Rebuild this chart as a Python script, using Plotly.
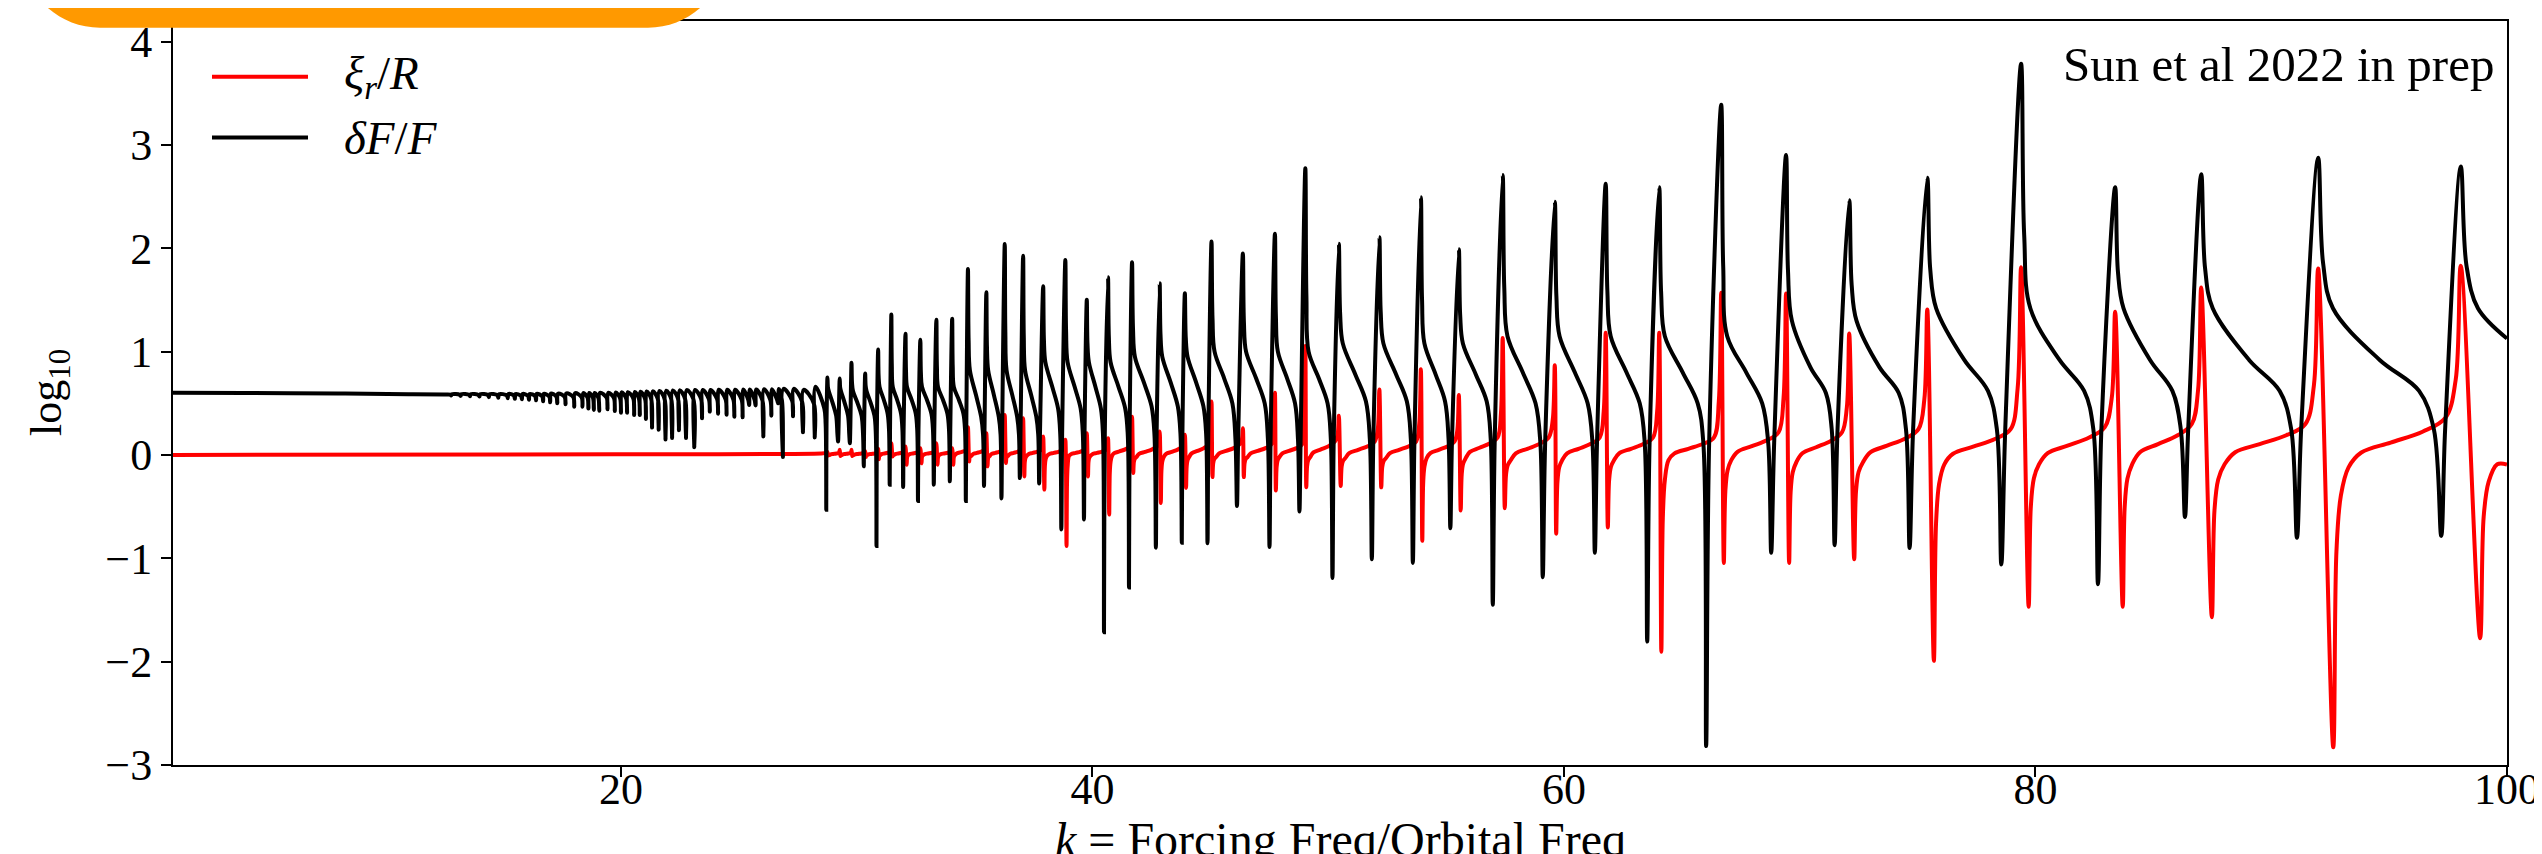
import plotly.graph_objects as go

# ---------------- data ----------------
# slowly varying black curve (delta F / F) before the resonances start
flat_k = [1.0, 4.0, 8.0, 11.0, 12.5]
flat_v = [0.602, 0.600, 0.595, 0.589, 0.586]

# dense comb of small resonances (black): position, tooth bottom, little peak, level before tooth
comb_k = [12.8, 13.2, 13.6, 14.0, 14.4, 14.8, 15.2, 15.5, 15.8, 16.1, 16.4, 16.7, 17.0, 17.3, 17.65,
          18.02, 18.37, 18.62, 18.85, 19.08, 19.43, 19.74, 20.00, 20.26, 20.56, 20.80, 21.06, 21.32,
          21.60, 21.89, 22.17, 22.46, 22.76, 23.11, 23.44, 23.77, 24.12, 24.48, 24.81, 25.16, 25.44,
          25.71, 26.04, 26.38, 26.67, 26.87, 27.30, 27.72, 28.22]
comb_low = [0.575, 0.572, 0.568, 0.565, 0.56, 0.555, 0.55, 0.545, 0.54, 0.535, 0.53, 0.52, 0.51, 0.50, 0.49,
            0.468, 0.468, 0.45, 0.436, 0.429, 0.442, 0.426, 0.41, 0.41, 0.387, 0.387, 0.349, 0.265,
            0.245, 0.15, 0.165, 0.24, 0.165, 0.076, 0.355, 0.42, 0.40, 0.39, 0.37, 0.365, 0.484,
            0.48, 0.18, 0.38, 0.50, -0.02, 0.375, 0.22, 0.17]
comb_high = [0.588, 0.588, 0.588, 0.588, 0.588, 0.588, 0.59, 0.59, 0.59, 0.59, 0.592, 0.592, 0.594, 0.594, 0.596,
             0.598, 0.60, 0.60, 0.60, 0.602, 0.602, 0.604, 0.606, 0.608, 0.61, 0.612, 0.614, 0.616,
             0.62, 0.622, 0.624, 0.626, 0.628, 0.63, 0.63, 0.63, 0.632, 0.632, 0.632, 0.634, 0.634,
             0.634, 0.636, 0.636, 0.638, 0.64, 0.64, 0.63, 0.66]
comb_base = [0.584, 0.583, 0.582, 0.580, 0.579, 0.578, 0.576, 0.575, 0.573, 0.572, 0.570, 0.568, 0.566, 0.565, 0.563,
             0.56, 0.56, 0.558, 0.556, 0.555, 0.555, 0.553, 0.552, 0.55, 0.55, 0.548, 0.546, 0.545,
             0.545, 0.544, 0.544, 0.544, 0.543, 0.543, 0.543, 0.54, 0.54, 0.538, 0.536, 0.535, 0.534,
             0.532, 0.53, 0.53, 0.53, 0.528, 0.526, 0.52, 0.50]
first_late_v = 0.45
first_pre_v = 0.30

# main resonances
res_trough_k = [28.71, 29.21, 29.71, 30.30, 30.84, 31.40, 31.97, 32.60, 33.27, 33.95, 34.63, 35.40, 36.14,
                36.92, 37.74, 38.68, 39.64, 40.49, 41.55, 42.69, 43.79, 44.88, 46.13, 47.51, 48.78, 50.18,
                51.85, 53.59, 55.18, 56.98, 59.10, 61.31, 63.53, 66.03, 68.79, 71.48, 74.66, 78.55, 82.65,
                86.34, 91.09, 97.21]
res_trough_v = [-0.53, 0.13, 0.114, -0.11, -0.88, -0.287, -0.31, -0.445, -0.287, -0.255, -0.445, -0.30, -0.42,
                -0.223, -0.275, -0.72, -0.624, -1.716, -1.283, -0.897, -0.849, -0.855, -0.494, -0.890, -0.546,
                -1.191, -1.010, -1.045, -0.709, -1.449, -1.182, -0.946, -1.806, -2.817, -0.946, -0.873, -0.901,
                -1.060, -1.251, -0.601, -0.801, -0.783]
res_peak_k = [28.76, 29.28, 29.78, 30.36, 30.91, 31.47, 32.07, 32.70, 33.38, 34.05, 34.72, 35.50, 36.28,
              37.06, 37.91, 38.85, 39.76, 40.66, 41.68, 42.85, 43.92, 45.05, 46.38, 47.74, 49.03, 50.45,
              52.17, 53.93, 55.54, 57.40, 59.61, 61.77, 64.04, 66.67, 69.42, 72.10, 75.41, 79.39, 83.38,
              87.03, 91.99, 98.04]
res_peak_v = [0.75, 0.741, 0.892, 0.789, 1.02, 1.36, 1.174, 1.116, 1.309, 1.319, 1.80, 1.576, 2.041,
              1.929, 1.633, 1.887, 1.502, 1.72, 1.865, 1.662, 1.566, 2.065, 1.949, 2.142, 2.775, 2.044,
              2.108, 2.495, 1.992, 2.710, 2.452, 2.624, 2.590, 3.390, 2.904, 2.465, 2.682, 3.786, 2.591,
              2.718, 2.877, 2.791]
# black levels after each peak: knee, middle of the gap, late, just before the next trough
res_knee_v = [0.62, 0.62, 0.62, 0.62, 0.66, 0.66, 0.66, 0.66, 0.66, 0.66, 0.82, 0.82, 0.82, 0.82, 0.90,
              0.90, 0.90, 0.90, 0.95, 0.95, 0.95, 1.00, 1.00, 1.00, 1.00, 1.08, 1.08, 1.08, 1.08, 1.15,
              1.15, 1.15, 1.15, 1.15, 1.30, 1.30, 1.42, 1.42, 1.42, 1.42, 1.42, 1.42]
res_mid_v = [0.50, 0.50, 0.50, 0.50, 0.53, 0.53, 0.53, 0.53, 0.53, 0.53, 0.58, 0.58, 0.58, 0.58, 0.66,
             0.66, 0.66, 0.66, 0.70, 0.70, 0.70, 0.74, 0.74, 0.74, 0.74, 0.78, 0.78, 0.78, 0.78, 0.80,
             0.80, 0.80, 0.80, 0.80, 0.85, 0.85, 0.92, 0.92, 0.92, 0.92, 0.92, 0.92]
res_late_v = [0.38, 0.38, 0.38, 0.38, 0.40, 0.40, 0.40, 0.40, 0.40, 0.40, 0.37, 0.37, 0.37, 0.37, 0.45,
              0.45, 0.45, 0.45, 0.47, 0.47, 0.47, 0.50, 0.50, 0.50, 0.50, 0.52, 0.52, 0.52, 0.52, 0.50,
              0.50, 0.50, 0.50, 0.50, 0.60, 0.60, 0.62, 0.62, 0.62, 0.62, 0.62, 0.62]
res_pre_v = [0.20, 0.20, 0.20, 0.20, 0.24, 0.24, 0.24, 0.24, 0.24, 0.24, 0.20, 0.20, 0.20, 0.20, 0.20,
             0.20, 0.20, 0.20, 0.20, 0.20, 0.20, 0.15, 0.15, 0.15, 0.15, 0.15, 0.15, 0.15, 0.15, 0.12,
             0.12, 0.12, 0.12, 0.12, 0.25, 0.25, 0.25, 0.25, 0.25, 0.25, 0.25, 0.25]
black_end_v = 1.127

# red curve (xi_r / R)
red_flat_k = [1.0, 15.0, 28.5]
red_flat_v = [0.0, 0.005, 0.015]
red_peak_v = [0.03, 0.05, 0.05, 0.04, 0.06, 0.114, 0.082, 0.066, 0.114, 0.066, 0.268, 0.21, 0.387,
              0.355, 0.179, 0.147, 0.211, 0.163, 0.371, 0.227, 0.195, 0.517, 0.259, 0.603, 1.054, 0.379,
              0.633, 0.831, 0.581, 1.132, 0.869, 1.183, 1.183, 1.570, 1.562, 1.175, 1.409, 1.818, 1.386,
              1.622, 1.804, 1.831]
red_trough_k = [28.79, 29.31, 29.81, 30.39, 30.94, 31.52, 32.12, 32.75, 33.43, 34.10, 34.77, 35.55, 36.33,
                37.11, 37.96, 38.90, 39.81, 40.71, 41.73, 42.90, 43.97, 45.09, 46.42, 47.78, 49.07, 50.53,
                52.25, 53.99, 55.62, 57.49, 59.67, 61.86, 64.13, 66.78, 69.55, 72.31, 75.69, 79.71, 83.70,
                87.48, 92.63, 98.86]
red_trough_v = [-0.005, -0.01, -0.01, -0.02, -0.04, -0.014, -0.094, -0.08, -0.094, -0.094, -0.062, -0.11,
                -0.078, -0.207, -0.335, -0.881, -0.207, -0.576, -0.175, -0.464, -0.319, -0.214, -0.214,
                -0.344, -0.313, -0.301, -0.313, -0.830, -0.537, -0.516, -0.761, -0.701, -1.905, -1.045,
                -1.045, -1.010, -1.992, -1.469, -1.469, -1.569, -2.829, -1.774]
red_pre_v = [0.02, 0.02, 0.02, 0.02, 0.02, 0.03, 0.03, 0.03, 0.03, 0.03, 0.05, 0.05, 0.05, 0.05, 0.05,
             0.05, 0.05, 0.05, 0.08, 0.08, 0.08, 0.10, 0.10, 0.10, 0.10, 0.13, 0.13, 0.13, 0.13, 0.17,
             0.17, 0.17, 0.17, 0.17, 0.22, 0.22, 0.25, 0.25, 0.27, 0.30, 0.30, 0.36]
red_post_v = [0.0, 0.0, 0.0, 0.0, 0.0, 0.0, 0.0, 0.0, 0.0, 0.0, -0.01, -0.01, -0.01, -0.01, -0.01,
              -0.01, -0.01, -0.01, -0.02, -0.02, -0.02, -0.02, -0.02, -0.02, -0.02, -0.03, -0.03, -0.03,
              -0.03, -0.05, -0.05, -0.05, -0.05, -0.05, -0.07, -0.07, -0.09, -0.09, -0.09, -0.09, -0.12,
              -0.09]
red_end_v = -0.092

k_max = 100.0

# ---------------- build the polylines from the readings ----------------
n = len(res_peak_k)

bx, by = list(flat_k), list(flat_v)
for k, lo, hi, base in zip(comb_k, comb_low, comb_high, comb_base):
    bx += [k - 0.04, k, k + 0.03]
    by += [base, lo, hi]
for i in range(n):
    kt, vt = res_trough_k[i], res_trough_v[i]
    kp, vp = res_peak_k[i], res_peak_v[i]
    if i == 0:
        g0 = kt - bx[-1]
        start = bx[-1]
        bx += [start + 0.82 * g0, start + 0.94 * g0]
        by += [first_late_v, first_pre_v]
        kink = first_pre_v
    else:
        kink = res_pre_v[i - 1]
    bx += [kt, kt + 0.2 * (kp - kt), kp]
    by += [vt, kink, vp]
    g = (res_trough_k[i + 1] - kp) if i + 1 < n else (kp - res_peak_k[i - 1])
    knee, mid, late, pre = res_knee_v[i], res_mid_v[i], res_late_v[i], res_pre_v[i]
    for f, v in [(0.04, knee + 0.3 * (vp - knee)), (0.12, knee), (0.5, mid), (0.82, late), (0.94, pre)]:
        bx.append(kp + f * g)
        by.append(v)
keep = [j for j in range(len(bx)) if bx[j] < k_max]
bx = [bx[j] for j in keep] + [k_max]
by = [by[j] for j in keep] + [black_end_v]

rx, ry = list(red_flat_k), list(red_flat_v)
prev_t = rx[-1]
for i in range(n):
    kp, vp, pre = res_peak_k[i], red_peak_v[i], red_pre_v[i]
    h = kp - prev_t
    if i > 0:
        post = red_post_v[i - 1]
        for f, w in [(0.22, 0.3), (0.45, 0.5), (0.7, 0.72)]:
            rx.append(prev_t + f * h)
            ry.append(post + w * (pre - post))
    rx += [kp - 0.12 * h, kp - 0.04 * h, kp]
    ry += [pre, pre + 0.25 * (vp - pre), vp]
    kt, vt, post = red_trough_k[i], red_trough_v[i], red_post_v[i]
    h2 = (res_peak_k[i + 1] - kt) if i + 1 < n else (kp - res_peak_k[i - 1])
    rx += [kt, kt + 0.025 * h2, kt + 0.06 * h2, kt + 0.12 * h2]
    ry += [vt, post + 0.3 * (vt - post), post + 0.1 * (vt - post), post]
    prev_t = kt
keep = [j for j in range(len(rx)) if rx[j] < k_max]
rx = [rx[j] for j in keep] + [k_max]
ry = [ry[j] for j in keep] + [red_end_v]

# ---------------- figure ----------------
W, H = 2542, 854
ML, MR, MT, MB = 165, 43, 10, 97
PW, PH = W - ML - MR, H - MT - MB


def px(x):
    return (x - ML) / PW


def py(y):
    return (H - MB - y) / PH


SERIF = "Liberation Serif, Times New Roman, serif"
LW = 4

fig = go.Figure()
fig.add_trace(go.Scatter(x=rx, y=ry, mode="lines", name="ξr/R",
                         line=dict(color="#ff0000", width=LW, simplify=False, shape="spline", smoothing=1.0),
                         showlegend=False))
fig.add_trace(go.Scatter(x=bx, y=by, mode="lines", name="δF/F",
                         line=dict(color="#000000", width=LW, simplify=False, shape="spline", smoothing=1.0),
                         showlegend=False))

axis_common = dict(showline=True, mirror=True, linecolor="black", linewidth=2, ticks="outside",
                   ticklen=10, tickwidth=2, tickcolor="black", showgrid=False, zeroline=False,
                   tickfont=dict(family=SERIF, size=44, color="black"))
fig.update_layout(
    width=W, height=H, margin=dict(l=ML, r=MR, t=MT, b=MB),
    paper_bgcolor="white", plot_bgcolor="white",
    xaxis=dict(range=[1, 100], tickvals=[20, 40, 60, 80, 100], ticklabelstandoff=-26, **axis_common),
    yaxis=dict(range=[-3, 4.2], tickvals=[-3, -2, -1, 0, 1, 2, 3, 4], **axis_common),
)

# legend drawn by hand (matplotlib style)
for yy, col, label in [(66, "#ff0000", "<i>ξ</i><sub><i>r</i></sub>/<i>R</i>"),
                       (127, "#000000", "<i>δF</i>/<i>F</i>")]:
    fig.add_shape(type="line", xref="paper", yref="paper", x0=px(204), x1=px(300), y0=py(yy), y1=py(yy),
                  line=dict(color=col, width=LW))
    fig.add_annotation(xref="paper", yref="paper", x=px(334), y=py(yy), xanchor="left", yanchor="middle",
                       text=label, showarrow=False, font=dict(family=SERIF, size=47, color="black"))

fig.add_annotation(xref="paper", yref="paper", x=px(2488), y=py(24), xanchor="right", yanchor="top",
                   text="Sun et al 2022 in prep", showarrow=False,
                   font=dict(family=SERIF, size=49, color="black"))

fig.add_annotation(xref="paper", yref="paper", x=0.5, y=py(803), xanchor="center", yanchor="top",
                   text="<i>k</i> = Forcing Freq/Orbital Freq", showarrow=False,
                   font=dict(family=SERIF, size=48, color="black"))
fig.add_annotation(xref="paper", yref="paper", x=px(41), y=0.5, xanchor="center", yanchor="middle",
                   textangle=-90, text="log<sub>10</sub>", showarrow=False,
                   font=dict(family=SERIF, size=44, color="black"))

# orange rounded tab overlapping the top edge
R = 78.5
x_l, x_r, y_b = 13.5, 718.5, 16.7
c = 0.5523 * R
path = (f"M {px(x_l)},{py(-150)} L {px(x_l)},{py(y_b - R)} "
        f"C {px(x_l)},{py(y_b - R + c)} {px(x_l + R - c)},{py(y_b)} {px(x_l + R)},{py(y_b)} "
        f"L {px(x_r - R)},{py(y_b)} "
        f"C {px(x_r - R + c)},{py(y_b)} {px(x_r)},{py(y_b - R + c)} {px(x_r)},{py(y_b - R)} "
        f"L {px(x_r)},{py(-150)} Z")
fig.add_shape(type="path", xref="paper", yref="paper", path=path, fillcolor="#ff9900",
              line=dict(width=0), layer="above")

fig.write_html("out.html")
